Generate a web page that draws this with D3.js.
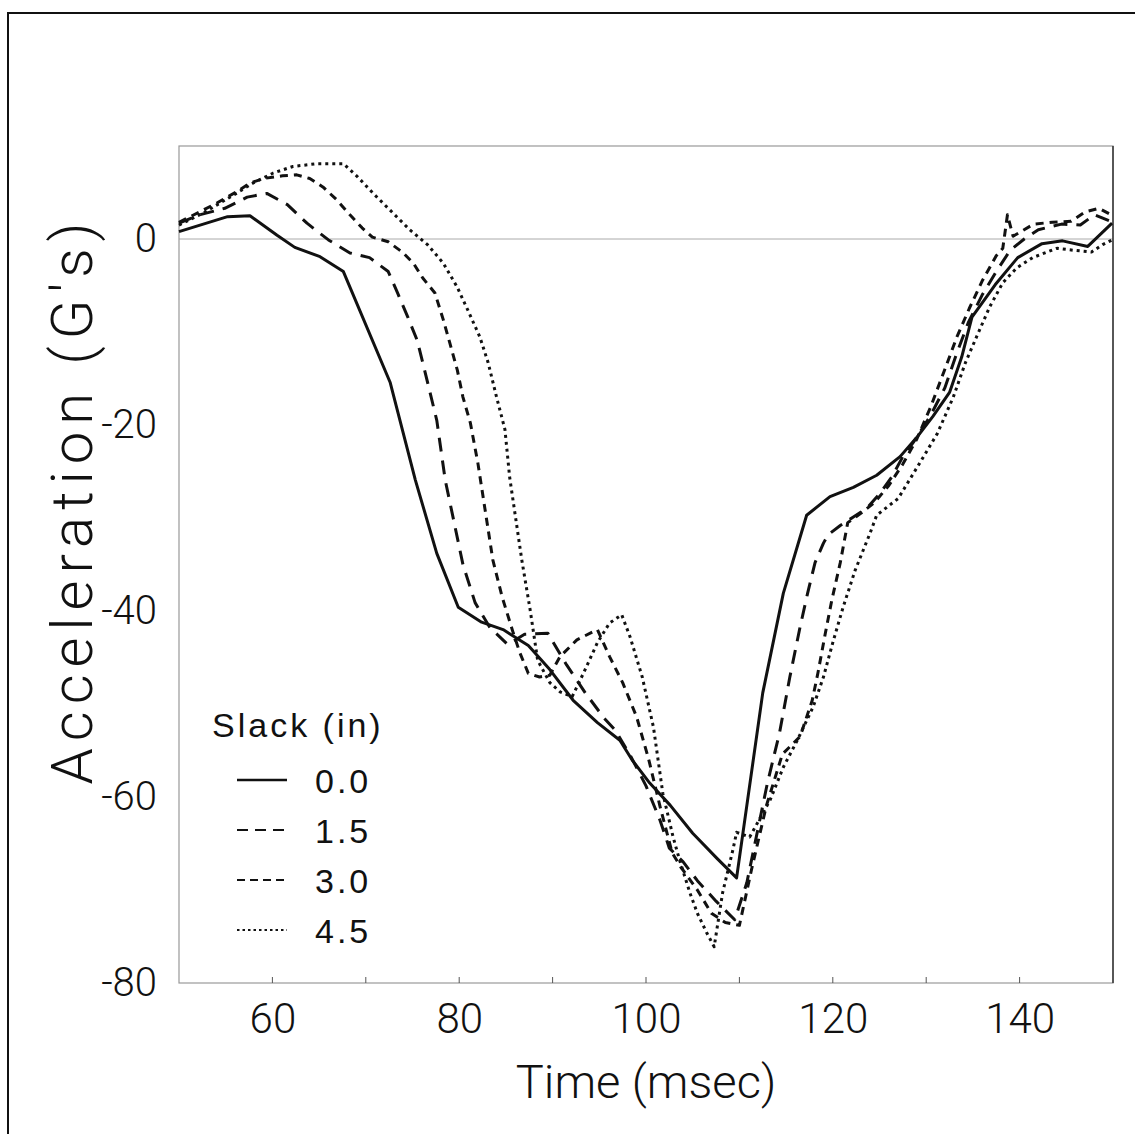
<!DOCTYPE html>
<style>
  body { margin: 0; background: #fff; }
  svg { display: block; }
  .tick text { font-family: Roboto, "Liberation Sans", sans-serif; font-weight: 300; }
  .title { font-family: Roboto, "Liberation Sans", sans-serif; font-weight: 300; }
  .legend text { font-family: "Liberation Sans", Arial, sans-serif; letter-spacing: 3px; }
</style>
<body>
</body>
<script src="https://cdn.jsdelivr.net/npm/d3@7/dist/d3.min.js"></script>
<script>
  // slack settings (in) and their line styles
  const slacks = ['0.0', '1.5', '3.0', '4.5'];
  const dashes = [null, '14,9', '8,6', '3,4'];
  const legendDashes = [null, '11,7', '8,5', '2.5,3'];

  const xTicks = [60, 80, 100, 120, 140];
  const yTicks = [0, -20, -40, -60, -80];

  // [time (msec), acceleration (G's)]
  const slack00 = [[50,0.8],[55.2,2.4],[57.6,2.5],[60.5,0.4],[62.4,-0.9],[65.1,-1.9],[67.6,-3.5],
    [72.6,-15.4],[75.3,-25.9],[77.6,-33.8],[79.9,-39.6],[82.4,-41.2],[84.7,-42.0],[87.4,-43.7],
    [89.7,-46.3],[92.2,-49.6],[94.8,-52.0],[97.2,-53.9],[98.5,-56.0],[100.4,-58.5],[102.6,-60.9],
    [105.0,-63.9],[107.6,-66.6],[109.7,-68.7],[112.5,-48.8],[114.7,-38.1],[117.2,-29.7],[119.7,-27.7],
    [122.2,-26.7],[124.7,-25.4],[127.2,-23.4],[129.1,-21.2],[130.7,-19.1],[132.5,-16.5],[133.8,-12.7],
    [134.9,-8.4],[137.4,-4.9],[139.8,-2.0],[142.4,-0.5],[144.6,-0.2],[147.3,-0.8],[149.9,1.7]];

  const slack15 = [[50,1.7],[52.2,2.6],[54.9,3.3],[57.3,4.5],[59.4,4.9],[61.6,3.7],[63.7,1.7],[66.0,-0.1],
    [68.3,-1.5],[70.4,-2.0],[72.4,-3.5],[73.4,-5.8],[74.5,-8.4],[75.5,-10.9],[76.1,-13.3],[76.9,-16.6],
    [77.6,-19.5],[78.5,-25.9],[80.4,-35.0],[81.7,-39.1],[83.3,-41.8],[85.2,-43.6],[87.0,-42.5],
    [89.5,-42.4],[91.5,-45.8],[93.5,-48.8],[95.5,-51.5],[96.7,-52.8],[98.3,-55.5],[100.0,-58.8],
    [101.5,-62.5],[102.5,-65.5],[104.0,-67.0],[105.5,-69.0],[107.5,-71.2],[109.5,-73.2],[110.8,-69.2],
    [113.0,-58.5],[114.3,-53.1],[115.4,-47.1],[116.5,-41.7],[117.3,-38.1],[118.1,-34.8],[119.0,-32.7],
    [119.5,-31.8],[120.8,-30.8],[122.2,-29.9],[123.7,-28.9],[125.1,-27.3],[126.3,-25.6],[127.5,-23.4],
    [128.6,-21.9],[130.4,-19.1],[132.0,-16.0],[133.2,-12.5],[134.5,-9.0],[136.0,-6.0],[137.5,-3.5],
    [139.0,-1.2],[140.5,0.0],[142.0,1.0],[144.5,1.6],[146.5,1.5],[148.0,2.6],[150.0,1.8]];

  const slack30 = [[50,1.8],[52.2,2.9],[54.1,3.9],[56.2,5.1],[57.6,6.0],[59.0,6.5],[61.1,6.8],[62.6,6.9],
    [64.0,6.5],[65.4,5.6],[66.9,4.2],[68.3,2.6],[69.6,1.2],[70.7,0.2],[72.4,-0.3],[73.9,-1.4],[75.1,-2.6],
    [76.1,-4.2],[77.4,-5.8],[78.3,-8.7],[79.0,-11.2],[79.8,-14.1],[80.4,-17.0],[81.2,-19.8],[82.0,-24.1],
    [83.6,-34.5],[84.6,-38.5],[85.8,-42.4],[86.5,-44.5],[87.4,-46.7],[88.6,-47.1],[89.7,-46.9],
    [90.8,-44.9],[92.6,-43.1],[94.8,-42.0],[96.1,-44.9],[97.5,-47.7],[99.0,-51.4],[100.3,-56.0],
    [101.5,-61.0],[102.8,-66.0],[103.7,-67.5],[105.5,-70.0],[107.0,-72.5],[108.5,-73.5],[110.0,-73.8],
    [111.3,-67.8],[112.9,-60.9],[114.6,-55.4],[116.5,-53.5],[117.8,-49.6],[118.4,-46.7],[119.2,-42.4],
    [119.9,-38.8],[120.8,-34.8],[121.6,-30.5],[123.0,-29.5],[124.5,-28.3],[126.0,-26.5],[127.5,-24.2],
    [129.0,-21.5],[130.5,-18.0],[132.0,-14.0],[133.3,-10.5],[134.6,-7.5],[136.0,-4.5],[137.5,-1.8],
    [138.2,-1.0],[138.7,2.6],[139.3,0.3],[141.5,1.6],[143.5,1.8],[145.5,1.9],[147.0,2.9],[148.5,3.3],
    [150.0,2.5]];

  const slack45 = [[50,1.5],[52.6,2.8],[55.8,4.7],[57.9,6.0],[60.1,7.1],[62.2,7.8],[64.8,8.1],[67.6,8.1],
    [69.1,6.7],[70.8,4.9],[72.6,3.1],[74.7,1.0],[76.6,-0.6],[78.3,-2.6],[79.8,-5.2],[80.9,-7.6],
    [82.2,-10.5],[83.1,-13.3],[84.0,-17.0],[84.9,-20.5],[85.4,-25.6],[86.7,-34.5],[87.6,-39.9],
    [88.4,-45.3],[89.7,-47.7],[90.8,-48.7],[92.1,-49.2],[93.3,-46.7],[94.8,-43.4],[96.1,-41.3],
    [97.4,-40.4],[98.3,-42.8],[99.6,-47.1],[100.8,-52.5],[101.8,-59.6],[102.9,-64.3],[103.6,-66.8],
    [104.7,-70.3],[105.5,-72.5],[106.5,-74.6],[107.3,-76.1],[108.2,-70.3],[109.3,-65.7],[109.7,-63.8],
    [111.1,-64.3],[113.3,-60.3],[114.7,-56.8],[116.2,-53.9],[117.9,-50.3],[119.0,-47.1],[120.0,-43.4],
    [121.1,-39.6],[122.4,-35.6],[124.0,-31.6],[124.7,-29.7],[127.0,-27.9],[129.3,-24.1],[131.2,-20.9],
    [132.9,-17.0],[134.2,-13.3],[135.4,-10.5],[136.8,-7.3],[138.2,-4.7],[139.7,-3.1],[141.4,-2.0],
    [144.0,-1.0],[145.7,-1.2],[147.7,-1.4],[148.9,-0.6],[149.9,-0.1]];

  const series = [slack00, slack15, slack30, slack45];

  const W = 1135, H = 1134;
  const plot = {l: 179, r: 1113, t: 146, b: 983};

  const svg = d3.select('body').append('svg')
    .attr('width', W)
    .attr('height', H);

  // outer frame (cropped on right and bottom)
  svg.append('path')
    .attr('d', `M8,${H + 2}V13H${W + 2}`)
    .attr('fill', 'none')
    .attr('stroke', '#111')
    .attr('stroke-width', 2);

  const x = d3.scaleLinear().domain([50, 150]).range([plot.l, plot.r]);
  const y = d3.scaleLinear().domain([-80, 10]).range([plot.b, plot.t]);

  // zero reference line
  svg.append('line')
    .attr('x1', plot.l).attr('x2', plot.r)
    .attr('y1', y(0)).attr('y2', y(0))
    .attr('stroke', '#aaa')
    .attr('stroke-width', 1);

  // plot frame
  svg.append('rect')
    .attr('x', plot.l).attr('y', plot.t)
    .attr('width', plot.r - plot.l).attr('height', plot.b - plot.t)
    .attr('fill', 'none')
    .attr('stroke', '#999')
    .attr('stroke-width', 1.2);
  svg.append('line')
    .attr('x1', plot.r).attr('x2', plot.r)
    .attr('y1', plot.t).attr('y2', plot.b)
    .attr('stroke', '#333')
    .attr('stroke-width', 1.5);

  // bottom axis: small inward ticks, labels below
  const xAxis = svg.append('g')
    .attr('transform', `translate(0, ${plot.b})`)
    .call(d3.axisBottom(x).tickValues(xTicks).tickSize(0).tickPadding(20));
  xAxis.select('.domain').remove();
  xAxis.selectAll('text').attr('font-size', 42).attr('fill', '#111');

  svg.append('g').selectAll('line')
    .data(d3.range(60, 150, 10))
    .join('line')
    .attr('x1', d => x(d)).attr('x2', d => x(d))
    .attr('y1', plot.b).attr('y2', plot.b - 6)
    .attr('stroke', '#555');

  const yAxis = svg.append('g')
    .attr('transform', `translate(${plot.l}, 0)`)
    .call(d3.axisLeft(y).tickValues(yTicks).tickSize(0).tickPadding(22)
      .tickFormat(d => d < 0 ? '-' + Math.abs(d) : d));
  yAxis.select('.domain').remove();
  yAxis.selectAll('text').attr('font-size', 40).attr('fill', '#111');

  // axis titles
  svg.append('text')
    .attr('class', 'title')
    .attr('x', 646)
    .attr('y', 1098)
    .attr('text-anchor', 'middle')
    .attr('font-size', 47)
    .attr('fill', '#111')
    .text('Time (msec)');

  svg.append('text')
    .attr('class', 'title')
    .attr('transform', `translate(92, 500) rotate(-90)`)
    .attr('text-anchor', 'middle')
    .attr('font-size', 58)
    .attr('letter-spacing', 7)
    .attr('fill', '#111')
    .text("Acceleration (G's)");

  // curves
  const line = d3.line().x(d => x(d[0])).y(d => y(d[1]));
  svg.append('g').selectAll('path')
    .data(series)
    .join('path')
    .attr('d', line)
    .attr('fill', 'none')
    .attr('stroke', '#111')
    .attr('stroke-width', 3)
    .attr('stroke-linejoin', 'round')
    .attr('stroke-dasharray', (d, i) => dashes[i]);

  // legend
  const legend = svg.append('g').attr('class', 'legend');
  legend.append('text')
    .attr('x', 212).attr('y', 737)
    .attr('font-size', 34)
    .attr('fill', '#111')
    .text('Slack (in)');

  const rows = legend.selectAll('g.row')
    .data(slacks)
    .join('g')
    .attr('class', 'row')
    .attr('transform', (d, i) => `translate(0, ${793 + i * 50})`);
  rows.append('line')
    .attr('x1', 237).attr('x2', 287)
    .attr('y1', -13).attr('y2', -13)
    .attr('stroke', '#111')
    .attr('stroke-width', (d, i) => i === 0 ? 2.5 : 2)
    .attr('stroke-dasharray', (d, i) => legendDashes[i]);
  rows.append('text')
    .attr('x', 315).attr('y', 0)
    .attr('font-size', 34)
    .attr('fill', '#111')
    .text(d => d);
</script>
